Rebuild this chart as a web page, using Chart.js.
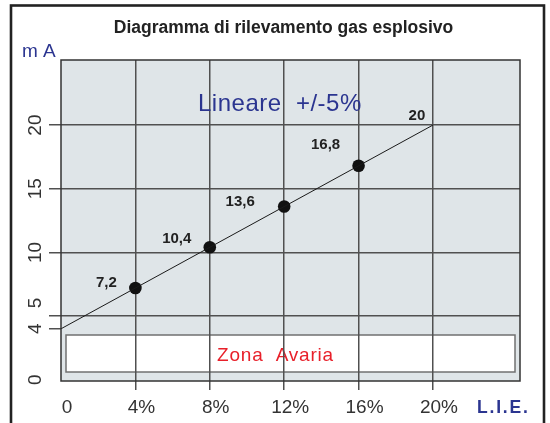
<!DOCTYPE html>
<html><head><meta charset="utf-8">
<script src="https://cdn.jsdelivr.net/npm/chart.js@4.4.1/dist/chart.umd.min.js"></script>
<style>html,body{margin:0;padding:0;background:#fff;}canvas{display:block;}</style>
</head><body>
<canvas id="c" width="550" height="423"></canvas>
<script>
const xTickValues = [0, 4, 8, 12, 16, 20];
const xTickLabels = ['0', '4%', '8%', '12%', '16%', '20%'];
const yTickValues = [0, 4, 5, 10, 15, 20];
const yTickLabels = ['0', '4', '5', '10', '15', '20'];
const pointX = [4, 8, 12, 16];
const pointY = [7.2, 10.4, 13.6, 16.8];
const pointLabels = ['7,2', '10,4', '13,6', '16,8'];
const lineX = [0, 20];
const lineY = [4, 20];
const lineLabels = ['', '20'];
const titleText = 'Diagramma di rilevamento gas esplosivo';
const yUnit = 'm A';
const xUnit = 'L.I.E.';
const noteText = 'Lineare  +/-5%';
const zoneText = 'Zona  Avaria';

const FONT = "'Liberation Sans', Arial, Helvetica, sans-serif";
const NAVY = '#2b3590';
const GRID = '#505050';
const CLEAR = 'rgba(0,0,0,0)';

const decor = {
  id: 'decor',
  beforeDraw(chart, args, o) {
    const {ctx, chartArea: a} = chart;
    ctx.save();
    ctx.fillStyle = '#fff';
    ctx.fillRect(0, 0, chart.width, chart.height);
    ctx.fillStyle = '#dfe5e8';
    ctx.fillRect(a.left, a.top, a.right - a.left, a.bottom - a.top);
    const bx = a.left + 5, bw = a.right - a.left - 10, by = a.bottom - 46, bh = 37;
    ctx.fillStyle = '#fff';
    ctx.fillRect(bx, by, bw, bh);
    ctx.strokeStyle = '#707070';
    ctx.lineWidth = 1.5;
    ctx.strokeRect(bx, by, bw, bh);
    ctx.fillStyle = '#e8202a';
    ctx.font = '19px ' + FONT;
    ctx.letterSpacing = '0.8px';
    ctx.textAlign = 'center';
    ctx.textBaseline = 'alphabetic';
    ctx.fillText(zoneText, bx + bw / 2 - 15, by + 26);
    ctx.restore();
  },
  afterDraw(chart, args, o) {
    const {ctx, chartArea: a, scales} = chart;
    ctx.save();
    ctx.strokeStyle = '#333';
    ctx.lineWidth = 1.5;
    ctx.strokeRect(a.left, a.top, a.right - a.left, a.bottom - a.top);
    ctx.fillStyle = '#222';
    ctx.font = 'bold 17.5px ' + FONT;
    ctx.textAlign = 'center';
    ctx.textBaseline = 'alphabetic';
    ctx.fillText(titleText, 283.5, 33);
    ctx.fillStyle = NAVY;
    ctx.font = '19px ' + FONT;
    ctx.textAlign = 'left';
    ctx.fillText(yUnit, 22, 57);
    ctx.font = 'bold 17.5px ' + FONT;
    ctx.letterSpacing = '1.8px';
    ctx.fillText(xUnit, 477, 413);
    ctx.letterSpacing = '0.5px';
    ctx.font = '24px ' + FONT;
    ctx.fillText(noteText, 198, 111);
    ctx.letterSpacing = '0px';
    ctx.fillStyle = '#333';
    ctx.font = '19px ' + FONT;
    ctx.textAlign = 'center';
    yTickValues.forEach((v, i) => {
      const py = scales.y.getPixelForValue(v) + (o.yShift[yTickLabels[i]] || 0);
      ctx.save();
      ctx.translate(34.5, py);
      ctx.rotate(-Math.PI / 2);
      ctx.fillText(yTickLabels[i], 0, 19 * 0.358);
      ctx.restore();
    });
    ctx.fillStyle = '#222';
    ctx.font = 'bold 15px ' + FONT;
    ctx.textAlign = 'center';
    ctx.textBaseline = 'middle';
    const pm = chart.getDatasetMeta(1).data;
    pm.forEach((el, i) => {
      const off = o.pointOffsets[i];
      ctx.fillText(pointLabels[i], el.x + off[0], el.y + off[1]);
    });
    const lm = chart.getDatasetMeta(0).data;
    lm.forEach((el, i) => {
      if (!lineLabels[i]) return;
      ctx.fillText(lineLabels[i], el.x + o.lineOffset[0], el.y + o.lineOffset[1]);
    });
    ctx.strokeStyle = '#222';
    ctx.lineWidth = 2.6;
    ctx.strokeRect(11, 5.5, 533, 460);
    ctx.restore();
  }
};

new Chart(document.getElementById('c'), {
  type: 'scatter',
  data: {
    datasets: [
      {
        data: lineX.map((x, i) => ({x, y: lineY[i]})),
        showLine: true,
        borderColor: '#1a1a1a',
        borderWidth: 1,
        pointRadius: 0,
        fill: false
      },
      {
        data: pointX.map((x, i) => ({x, y: pointY[i]})),
        pointRadius: 6.3,
        pointBackgroundColor: '#111',
        pointBorderWidth: 0,
        showLine: false
      }
    ]
  },
  options: {
    responsive: false,
    animation: false,
    devicePixelRatio: 1,
    layout: {padding: {left: 10, top: 60, right: 30, bottom: 0}},
    plugins: {
      legend: {display: false},
      tooltip: {enabled: false},
      decor: {
        yShift: {'5': -13},
        pointOffsets: [[-29, -5.5], [-33, -8], [-44, -5], [-33, -21]],
        lineOffset: [-16, -9.5]
      }
    },
    scales: {
      x: {
        type: 'linear',
        min: 0,
        max: 24.68,
        afterBuildTicks: s => { s.ticks = xTickValues.map(v => ({value: v})); },
        afterFit: s => { s.height = 42; },
        ticks: {
          autoSkip: false,
          maxRotation: 0,
          callback: (v, i) => xTickLabels[i],
          color: '#333',
          font: {family: FONT, size: 19},
          padding: 6,
          labelOffset: 6
        },
        grid: {
          color: c => (c.tick && c.tick.value === 0) ? CLEAR : GRID,
          tickColor: c => (c.tick && c.tick.value === 0) ? CLEAR : GRID,
          lineWidth: 1.5,
          tickLength: 9
        },
        border: {display: false}
      },
      y: {
        type: 'linear',
        min: -0.1,
        max: 25.11,
        afterBuildTicks: s => { s.ticks = yTickValues.map(v => ({value: v})); },
        afterFit: s => { s.width = 51; },
        ticks: {display: false},
        grid: {
          color: c => (c.tick && (c.tick.value === 0 || c.tick.value === 4)) ? CLEAR : GRID,
          tickColor: c => (c.tick && c.tick.value === 0) ? CLEAR : GRID,
          lineWidth: 1.5,
          tickLength: 12
        },
        border: {display: false}
      }
    }
  },
  plugins: [decor]
});
</script>
</body></html>
